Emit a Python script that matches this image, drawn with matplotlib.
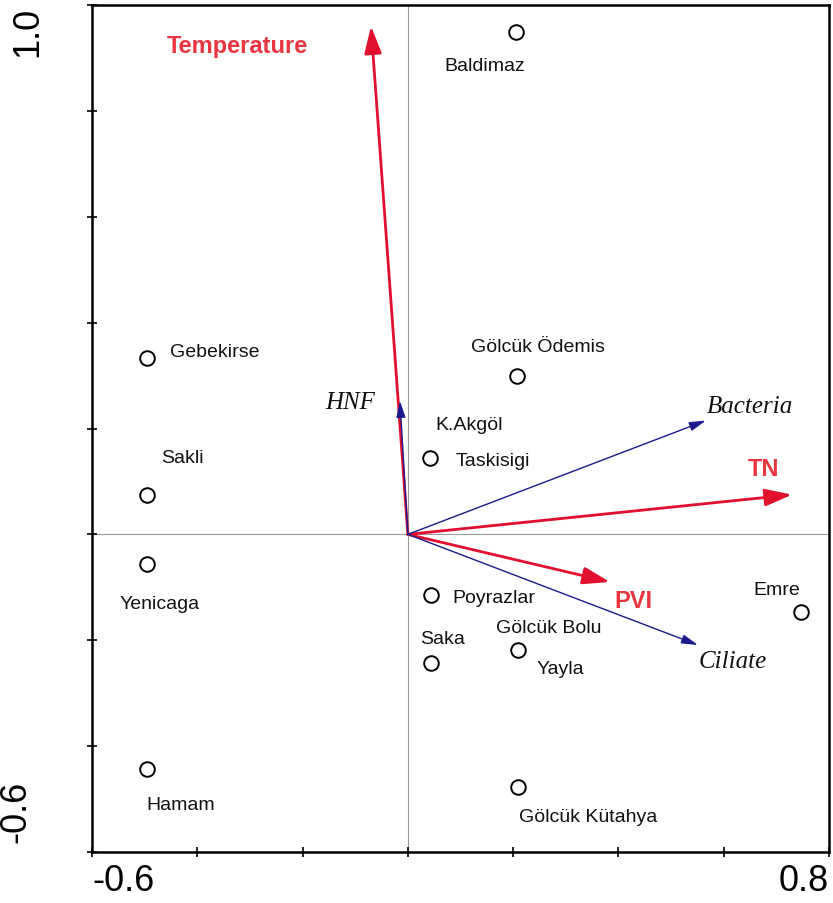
import matplotlib
matplotlib.use("Agg")
import matplotlib.pyplot as plt

plt.rcParams['font.family'] = ['Liberation Sans', 'DejaVu Sans']

# Sites (sample scores)
site_names = ["Baldimaz", "Gölcük Ödemis", "Taskisigi", "Gebekirse", "Sakli",
              "Yenicaga", "Hamam", "Poyrazlar", "Saka", "Gölcük Bolu",
              "Gölcük Kütahya", "Emre"]
site_x = [0.206, 0.208, 0.042, -0.496, -0.496, -0.496, -0.496, 0.044, 0.044, 0.210, 0.210, 0.747]
site_y = [0.949, 0.299, 0.145, 0.333, 0.075, -0.056, -0.444, -0.115, -0.243, -0.218, -0.478, -0.147]

# Environmental variables (red arrows)
env_names = ["Temperature", "TN", "PVI"]
env_x = [-0.070, 0.730, 0.384]
env_y = [0.960, 0.075, -0.090]

# Plankton groups (blue arrows)
sp_names = ["Bacteria", "Ciliate", "HNF"]
sp_x = [0.566, 0.551, -0.015]
sp_y = [0.215, -0.209, 0.252]

x_ticks = [-0.6, -0.4, -0.2, 0.0, 0.2, 0.4, 0.6, 0.8]
y_ticks = [-0.6, -0.4, -0.2, 0.0, 0.2, 0.4, 0.6, 0.8, 1.0]

fig = plt.figure(figsize=(8.33, 9.04), dpi=100)
ax = fig.add_axes([92 / 833, 1 - 853 / 904, (829 - 92) / 833, (853 - 6) / 904])
ax.set_xlim(-0.6, 0.8)
ax.set_ylim(-0.6, 1.0)

ax.axhline(0, color="#999999", lw=0.8, zorder=1)
ax.axvline(0, color="#999999", lw=0.8, zorder=1)

# Label offsets (data units) from each site symbol
site_label_pos = {
    "Baldimaz": (-0.060, -0.064),
    "Gölcük Ödemis": (0.040, 0.055),
    "Taskisigi": (0.120, -0.005),
    "Gebekirse": (0.130, 0.012),
    "Sakli": (0.068, 0.070),
    "Yenicaga": (0.025, -0.075),
    "Hamam": (0.064, -0.066),
    "Poyrazlar": (0.120, -0.004),
    "Saka": (0.022, 0.047),
    "Gölcük Bolu": (0.057, 0.043),
    "Gölcük Kütahya": (0.133, -0.055),
    "Emre": (-0.047, 0.043),
}

ax.plot(site_x, site_y, linestyle="none", marker="o", markersize=10.5,
        markerfacecolor="white", markeredgecolor="black", markeredgewidth=1.4, zorder=4)
for name, x, y in zip(site_names, site_x, site_y):
    dx, dy = site_label_pos[name]
    ax.text(x + dx, y + dy, name, fontsize=14, ha="center", va="center", color="#111111", zorder=5)
# second labels sharing a site symbol
ax.text(site_x[2] + 0.074, site_y[2] + 0.062, "K.Akgöl", fontsize=14, ha="center", va="center", color="#111111")
ax.text(site_x[9] + 0.080, site_y[9] - 0.036, "Yayla", fontsize=14, ha="center", va="center", color="#111111")

# Arrows
for x, y in zip(env_x, env_y):
    ax.annotate("", xy=(x, y), xytext=(0, 0),
                arrowprops=dict(arrowstyle="-|>,head_length=1.1,head_width=0.35",
                                color="#e0102e", lw=2.0, shrinkA=0, shrinkB=0,
                                mutation_scale=15), zorder=3)
for x, y in zip(sp_x, sp_y):
    ax.annotate("", xy=(x, y), xytext=(0, 0),
                arrowprops=dict(arrowstyle="-|>,head_length=0.9,head_width=0.25",
                                color="#1a1a8c", lw=1.0, shrinkA=0, shrinkB=0,
                                mutation_scale=11), zorder=3)

env_label_xy = {"Temperature": (-0.324, 0.923), "TN": (0.676, 0.125), "PVI": (0.429, -0.124)}
for name in env_names:
    lx, ly = env_label_xy[name]
    ax.text(lx, ly, name, fontsize=17, fontweight="bold", color="#e8353f",
            ha="center", va="center")

sp_label_xy = {"Bacteria": (0.650, 0.243), "Ciliate": (0.617, -0.240), "HNF": (-0.110, 0.250)}
for name in sp_names:
    lx, ly = sp_label_xy[name]
    ax.text(lx, ly, name, fontsize=18, style="italic", family="Liberation Serif",
            color="#111111", ha="center", va="center")

ax.set_xticks(x_ticks)
ax.set_yticks(y_ticks)
ax.set_xticklabels([""] * len(x_ticks))
ax.set_yticklabels([""] * len(y_ticks))
ax.tick_params(direction="inout", length=7, width=1.2)
ax.tick_params(axis="y", left=True, right=False)
ax.tick_params(axis="x", bottom=True, top=False)
for sp in ax.spines.values():
    sp.set_linewidth(1.8)

# axis end labels
fig.text(92 / 833, 1 - 882 / 904, "-0.6", fontsize=26, ha="left", va="center")
fig.text(829 / 833, 1 - 882 / 904, "0.8", fontsize=26, ha="right", va="center")
fig.text(28 / 833, 1 - 32 / 904, "1.0", rotation=90, fontsize=26, ha="center", va="center")
fig.text(16 / 833, 1 - 812 / 904, "-0.6", rotation=90, fontsize=26, ha="center", va="center")

fig.savefig("out.png", dpi=100)
